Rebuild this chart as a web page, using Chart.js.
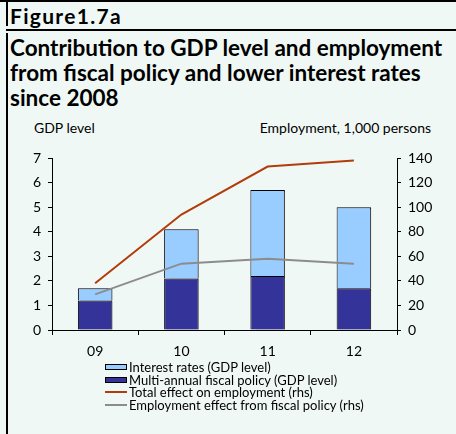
<!DOCTYPE html>
<html>
<head>
<meta charset="utf-8">
<script src="https://cdn.jsdelivr.net/npm/chart.js@4/dist/chart.umd.min.js"></script>
<style>
  html, body { margin: 0; padding: 0; }
  body {
    width: 456px; height: 434px; position: relative; overflow: hidden;
    background: #f0f8f5; font-family: Lato, "Open Sans", sans-serif; color: #000;
  }
  .rule-top { position: absolute; left: 0; top: 0; width: 456px; height: 2px; background: #000; }
  .rule-mid { position: absolute; left: 6px; top: 29px; width: 450px; height: 2px; background: #000; }
  .rule-left1 { position: absolute; left: 6px; top: 2px; width: 2px; height: 24px; background: #000; }
  .rule-left2 { position: absolute; left: 6px; top: 33px; width: 2px; height: 401px; background: #000; }
  #fig { position: absolute; left: 10px; top: 3px; font-weight: 700; font-size: 21px; line-height: 26px; letter-spacing: 1.3px; }
  #title { position: absolute; left: 10px; top: 35px; font-weight: 700; font-size: 22.5px; line-height: 25px; }
  .axis-title { position: absolute; top: 119px; font-size: 14px; line-height: 18px; }
  #lt { left: 34px; }
  #rt { right: 25px; }
  canvas { position: absolute; left: 0; top: 0; }
  #legend { position: absolute; left: 105px; top: 361px; font-size: 13px; line-height: 12.5px; }
  #legend div { display: flex; align-items: center; white-space: nowrap; }
  #legend .sw { width: 22px; margin-right: 2px; box-sizing: border-box; }
</style>
</head>
<body>
<div class="rule-top"></div>
<div class="rule-left1"></div>
<div class="rule-mid"></div>
<div class="rule-left2"></div>
<div id="fig">Figure1.7a</div>
<div id="title">Contribution to GDP level and employment<br>from fiscal policy and lower interest rates<br>since 2008</div>
<div class="axis-title" id="lt">GDP level</div>
<div class="axis-title" id="rt">Employment, 1,000 persons</div>
<canvas id="chart" width="456" height="434"></canvas>
<div id="legend"></div>
<script>
// years and series (GDP level in %, employment in 1,000 persons)
const years = ["09", "10", "11", "12"];
const fiscalGdp = [1.2, 2.1, 2.2, 1.7];
const interestGdp = [0.5, 2.0, 3.5, 3.3];
const totalEmployment = [38, 94, 133, 138];
const fiscalEmployment = [29, 54, 58, 54];

const gdpTicks = [0, 1, 2, 3, 4, 5, 6, 7];
const employmentTicks = [0, 20, 40, 60, 80, 100, 120, 140];

const labels = {
    interest: "Interest rates (GDP level)",
    fiscal: "Multi-annual fiscal policy (GDP level)",
    total: "Total effect on employment (rhs)",
    fiscalEmp: "Employment effect from fiscal policy (rhs)",
};

const colors = {
    interest: "#99ccff",
    fiscal: "#333399",
    total: "#b23c0a",
    fiscalEmp: "#8c8c8c",
};

Chart.defaults.font.family = "Lato, 'Open Sans', sans-serif";
Chart.defaults.color = "#000";

// soft grey drop shadow behind the bars
const barShadow = {
    id: "barShadow",
    beforeDatasetDraw(chart, args) {
        if (args.meta.type !== "bar") return;
        const ctx = chart.ctx;
        ctx.save();
        ctx.shadowColor = "rgba(90,90,90,0.45)";
        ctx.shadowOffsetX = 2;
        ctx.shadowOffsetY = 1;
        ctx.shadowBlur = 1;
    },
    afterDatasetDraw(chart, args) {
        if (args.meta.type !== "bar") return;
        chart.ctx.restore();
    },
};

const axisGrid = {
    display: true,
    drawOnChartArea: false,
    drawTicks: true,
    tickLength: 4,
    color: "#000",
};

const ctx = document.getElementById("chart");
const chart = new Chart(ctx, {
    type: "bar",
    data: {
        labels: years,
        datasets: [
            {
                type: "line",
                label: labels.total,
                data: totalEmployment,
                yAxisID: "y1",
                borderColor: colors.total,
                backgroundColor: colors.total,
                borderWidth: 2,
                pointRadius: 0,
                tension: 0,
                order: 0,
            },
            {
                type: "line",
                label: labels.fiscalEmp,
                data: fiscalEmployment,
                yAxisID: "y1",
                borderColor: colors.fiscalEmp,
                backgroundColor: colors.fiscalEmp,
                borderWidth: 2,
                pointRadius: 0,
                tension: 0,
                order: 0,
            },
            {
                label: labels.fiscal,
                data: fiscalGdp,
                yAxisID: "y",
                backgroundColor: colors.fiscal,
                borderColor: "#000",
                borderWidth: 1,
                categoryPercentage: 1,
                barPercentage: 0.4,
                order: 1,
            },
            {
                label: labels.interest,
                data: interestGdp,
                yAxisID: "y",
                backgroundColor: colors.interest,
                borderColor: "#000",
                borderWidth: 1,
                categoryPercentage: 1,
                barPercentage: 0.4,
                order: 1,
            },
        ],
    },
    options: {
        responsive: false,
        animation: false,
        layout: { padding: { top: 158, bottom: 74, left: 0, right: 0 } },
        plugins: {
            legend: { display: false },
            tooltip: { enabled: false },
        },
        scales: {
            x: {
                stacked: true,
                offset: true,
                grid: { ...axisGrid, offset: true, tickLength: 5 },
                border: { color: "#000", width: 1 },
                ticks: { padding: 8, font: { size: 14 }, color: "#000" },
                afterFit: (scale) => { scale.height = 30; },
            },
            y: {
                position: "left",
                stacked: true,
                min: gdpTicks[0],
                max: gdpTicks[gdpTicks.length - 1],
                grid: axisGrid,
                border: { color: "#000", width: 1 },
                afterBuildTicks: (scale) => { scale.ticks = gdpTicks.map((v) => ({ value: v })); },
                ticks: { padding: 7, font: { size: 14 }, color: "#000" },
                afterFit: (scale) => { scale.width = 52; },
            },
            y1: {
                position: "right",
                min: employmentTicks[0],
                max: employmentTicks[employmentTicks.length - 1],
                grid: axisGrid,
                border: { color: "#000", width: 1 },
                afterBuildTicks: (scale) => { scale.ticks = employmentTicks.map((v) => ({ value: v })); },
                ticks: { padding: 7, font: { size: 14 }, color: "#000" },
                afterFit: (scale) => { scale.width = 59; },
            },
        },
    },
    plugins: [barShadow],
});

// legend: bars first, then the two employment lines
const legendItems = [
    { text: labels.interest, color: colors.interest, kind: "box" },
    { text: labels.fiscal, color: colors.fiscal, kind: "box" },
    { text: labels.total, color: colors.total, kind: "line" },
    { text: labels.fiscalEmp, color: colors.fiscalEmp, kind: "line" },
];
const legendEl = document.getElementById("legend");
legendItems.forEach((item) => {
    const row = document.createElement("div");
    const sw = document.createElement("span");
    sw.className = "sw";
    if (item.kind === "box") {
        sw.style.height = "6px";
        sw.style.background = item.color;
        sw.style.border = "1px solid #000";
    } else {
        sw.style.height = "2px";
        sw.style.background = item.color;
    }
    row.appendChild(sw);
    row.appendChild(document.createTextNode(item.text));
    legendEl.appendChild(row);
});
</script>
</body>
</html>
